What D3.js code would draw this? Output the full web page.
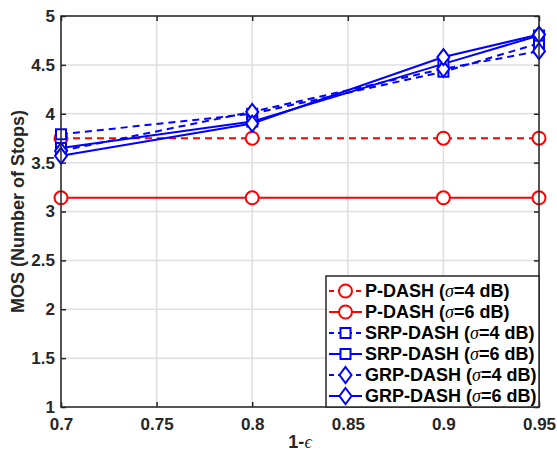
<!DOCTYPE html>
<html>
<head>
<meta charset="utf-8">
<script src="https://cdn.jsdelivr.net/npm/d3@7"></script>
<style>
  body { margin: 0; background: #fff; }
  text { font-family: "Liberation Sans", Arial, sans-serif; font-weight: bold; }
</style>
</head>
<body>
<svg id="chart"></svg>
<script>
const xValues = [0.7, 0.8, 0.9, 0.95];
const xTicks = [0.7, 0.75, 0.8, 0.85, 0.9, 0.95];
const yTicks = [1, 1.5, 2, 2.5, 3, 3.5, 4, 4.5, 5];

const pdash4 = [3.75, 3.75, 3.75, 3.75];
const pdash6 = [3.14, 3.14, 3.14, 3.14];
const srp4 = [3.79, 4.0, 4.43, 4.72];
const srp6 = [3.65, 3.92, 4.51, 4.8];
const grp4 = [3.62, 4.02, 4.46, 4.64];
const grp6 = [3.57, 3.9, 4.58, 4.81];

const series = [
  { name: "P-DASH", sigma: 4, values: pdash4, color: "#ff0000", dashed: true, marker: "circle" },
  { name: "P-DASH", sigma: 6, values: pdash6, color: "#ff0000", dashed: false, marker: "circle" },
  { name: "SRP-DASH", sigma: 4, values: srp4, color: "#0000ff", dashed: true, marker: "square" },
  { name: "SRP-DASH", sigma: 6, values: srp6, color: "#0000ff", dashed: false, marker: "square" },
  { name: "GRP-DASH", sigma: 4, values: grp4, color: "#0000ff", dashed: true, marker: "diamond" },
  { name: "GRP-DASH", sigma: 6, values: grp6, color: "#0000ff", dashed: false, marker: "diamond" }
];

const svgWidth = 557, svgHeight = 457;
const margin = { top: 16, right: 18, bottom: 50, left: 61 };
const width = svgWidth - margin.left - margin.right;
const height = svgHeight - margin.top - margin.bottom;

const root = d3.select("#chart").attr("width", svgWidth).attr("height", svgHeight);
const svg = root.append("g").attr("transform", `translate(${margin.left},${margin.top})`);

const x = d3.scaleLinear().domain([0.7, 0.95]).range([0, width]);
const y = d3.scaleLinear().domain([1, 5]).range([height, 0]);

// grid
svg.append("g").selectAll("line").data(xTicks).enter().append("line")
  .attr("x1", d => x(d)).attr("x2", d => x(d)).attr("y1", 0).attr("y2", height)
  .attr("stroke", "#dfdfdf").attr("stroke-width", 1.5);
svg.append("g").selectAll("line").data(yTicks).enter().append("line")
  .attr("y1", d => y(d)).attr("y2", d => y(d)).attr("x1", 0).attr("x2", width)
  .attr("stroke", "#dfdfdf").attr("stroke-width", 1.5);

// axes with inward ticks
const axisColor = "#262626";
function styleAxis(g) {
  g.select(".domain").remove();
  g.selectAll(".tick line").attr("stroke", axisColor).attr("stroke-width", 1.5);
  g.selectAll(".tick text").attr("fill", axisColor).attr("font-size", "17px")
    .attr("font-family", "Liberation Sans, Arial, sans-serif").attr("font-weight", "bold");
}
svg.append("g").attr("transform", `translate(0,${height})`)
  .call(d3.axisBottom(x).tickValues(xTicks).tickFormat(d3.format("")).tickSizeInner(-5).tickPadding(11))
  .call(styleAxis);
svg.append("g")
  .call(d3.axisLeft(y).tickValues(yTicks).tickFormat(d3.format("")).tickSizeInner(-5).tickPadding(6))
  .call(styleAxis);
svg.append("g")
  .call(d3.axisTop(x).tickValues(xTicks).tickFormat("").tickSizeInner(-5))
  .call(styleAxis);
svg.append("g").attr("transform", `translate(${width},0)`)
  .call(d3.axisRight(y).tickValues(yTicks).tickFormat("").tickSizeInner(-5))
  .call(styleAxis);

// lines
const line = d3.line().x((d, i) => x(xValues[i])).y(d => y(d));

function drawMarker(g, type, cx, cy, color) {
  if (type === "circle") {
    g.append("circle").attr("cx", cx).attr("cy", cy).attr("r", 6.5)
      .attr("fill", "#fff").attr("stroke", color).attr("stroke-width", 2);
  } else if (type === "square") {
    g.append("rect").attr("x", cx - 5).attr("y", cy - 5).attr("width", 10).attr("height", 10)
      .attr("fill", "#fff").attr("stroke", color).attr("stroke-width", 2);
  } else {
    g.append("path").attr("d", `M${cx},${cy - 8}L${cx + 6},${cy}L${cx},${cy + 8}L${cx - 6},${cy}Z`)
      .attr("fill", "#fff").attr("stroke", color).attr("stroke-width", 2);
  }
}

series.forEach(s => {
  const g = svg.append("g");
  g.append("path").datum(s.values).attr("d", line)
    .attr("fill", "none").attr("stroke", s.color).attr("stroke-width", 2)
    .attr("stroke-dasharray", s.dashed ? "7,5" : null);
  s.values.forEach((v, i) => drawMarker(g, s.marker, x(xValues[i]), y(v), s.color));
});

// box outline
svg.append("rect").attr("x", 0).attr("y", 0).attr("width", width).attr("height", height)
  .attr("fill", "none").attr("stroke", axisColor).attr("stroke-width", 1.5);

// legend
const legW = 213, legH = 131;
const leg = svg.append("g").attr("transform", `translate(${width - legW},${height - legH})`);
leg.append("rect").attr("width", legW).attr("height", legH)
  .attr("fill", "#fff").attr("stroke", axisColor).attr("stroke-width", 1.5);
series.forEach((s, i) => {
  const cy = 15 + i * 21;
  const item = leg.append("g");
  item.append("line").attr("x1", 3).attr("x2", 36).attr("y1", cy).attr("y2", cy)
    .attr("stroke", s.color).attr("stroke-width", 2)
    .attr("stroke-dasharray", s.dashed ? "5,4" : null);
  drawMarker(item, s.marker, 19.5, cy, s.color);
  const t = item.append("text").attr("x", 39).attr("y", cy + 6)
    .attr("font-size", "18px").attr("fill", "#000");
  t.append("tspan").text(`${s.name} (`);
  t.append("tspan").attr("font-style", "italic").attr("font-weight", "normal")
    .attr("font-family", "Liberation Serif, serif").text("σ");
  t.append("tspan").text(`=${s.sigma} dB)`);
});

// axis labels
const xl = root.append("text").attr("x", margin.left + width / 2).attr("y", 448)
  .attr("text-anchor", "middle").attr("font-size", "18px").attr("fill", axisColor);
xl.append("tspan").text("1-");
xl.append("tspan").attr("font-style", "italic").attr("font-weight", "normal")
  .attr("font-family", "Liberation Serif, serif").text("ϵ");
root.append("text").attr("transform", `translate(24,${margin.top + height / 2}) rotate(-90)`)
  .attr("text-anchor", "middle").attr("font-size", "18px").attr("fill", axisColor)
  .text("MOS (Number of Stops)");
</script>
</body>
</html>
